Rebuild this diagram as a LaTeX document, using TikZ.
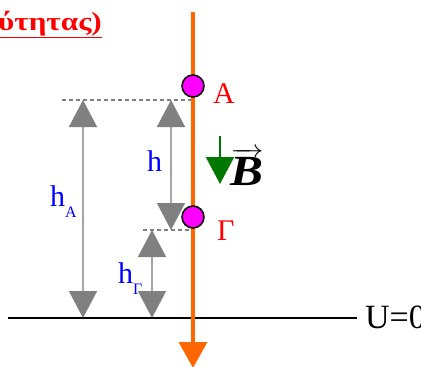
\documentclass[tikz,border=0pt]{standalone}
\usepackage{fontspec}
\setmainfont{Liberation Serif}
\usetikzlibrary{positioning, arrows.meta}
\definecolor{rodorange}{RGB}{255,102,0}
\definecolor{dimgray}{RGB}{165,165,165}
\definecolor{fieldgreen}{RGB}{0,120,0}
\definecolor{pointpink}{RGB}{255,0,255}
\newcommand\subtxt[1]{\raisebox{-11pt}{\fontsize{16}{16}\selectfont #1}}

\begin{document}
\begin{tikzpicture}[
    x=1pt, y=-1pt,
    dim/.style={draw=dimgray, line width=1.5pt,
        {Triangle[length=27pt, width=28pt, color=gray]}-{Triangle[length=27pt, width=28pt, color=gray]}},
    level/.style={draw=gray, line width=1.5pt, dash pattern=on 4pt off 3pt},
    point/.style={circle, draw=black, line width=1.5pt, fill=pointpink, minimum size=22pt, inner sep=0pt},
    txt/.style={anchor=base west, inner sep=0pt, font=\fontsize{30}{30}\selectfont}
]
\useasboundingbox (0,0) rectangle (421,367);

% Rod and ground level
\coordinate (rodtop) at (193,12);
\coordinate (rodbot) at (193,368);
\coordinate (gl) at (8,318);
\coordinate (gr) at (357,318);

% Levels of A and Gamma
\coordinate (lvlA) at (62,100);
\coordinate (lvlAr) at (193,100);
\coordinate (lvlG) at (143,230);
\coordinate (lvlGr) at (193,230);

% Ends of the height arrows
\coordinate (hAtop) at (83,100);
\coordinate (hAbot) at (83,318);
\coordinate (htop) at (171,100);
\coordinate (hbot) at (171,230);
\coordinate (hGtop) at (152,230);
\coordinate (hGbot) at (152,318);

% Field arrow
\coordinate (Btop) at (220,136);
\coordinate (Bbot) at (220,184);

\draw[level] (lvlA) -- (lvlAr);
\draw[level] (lvlG) -- (lvlGr);
\draw[black, line width=1.6pt] (gl) -- (gr);

\draw[dim] (hAtop) -- (hAbot);
\draw[dim] (htop) -- (hbot);
\draw[dim] (hGtop) -- (hGbot);

\draw[fieldgreen, line width=2pt, -{Triangle[length=27pt, width=28pt]}] (Btop) -- (Bbot);

\draw[rodorange, line width=3.5pt, -{Triangle[length=26pt, width=28pt]}] (rodtop) -- (rodbot);

% Points on the rod
\node[point] (A) at (193,86) {};
\node[point] (G) at (193,217) {};

% Labels
\node[txt, red] (Alabel) at (213,103) {A};
\node[txt, red] (Glabel) at (217,240) {Γ};
\node[txt, blue] (hlabel) at (147,171) {h};
\node[txt, blue] (hAlabel) at (50,206) {h\subtxt{A}};
\node[txt, blue] (hGlabel) at (118,283) {h\subtxt{Γ}};
\node[txt, font=\fontsize{34}{34}\selectfont] (Ulabel) at (365,328) {U=0};
\node[anchor=base, inner sep=0pt] (Blabel) at (247,185)
    {\scalebox{1.15}[1]{\fontsize{43}{43}\selectfont $\overrightarrow{\textbf{\textit{B}}}$}};
\node[anchor=base west, inner sep=0pt, red, font=\fontsize{26}{26}\selectfont\bfseries] (title) at (-2,30)
    {\scalebox{1.2}[1]{\underline{ύτητας)}}};

\end{tikzpicture}
\end{document}
